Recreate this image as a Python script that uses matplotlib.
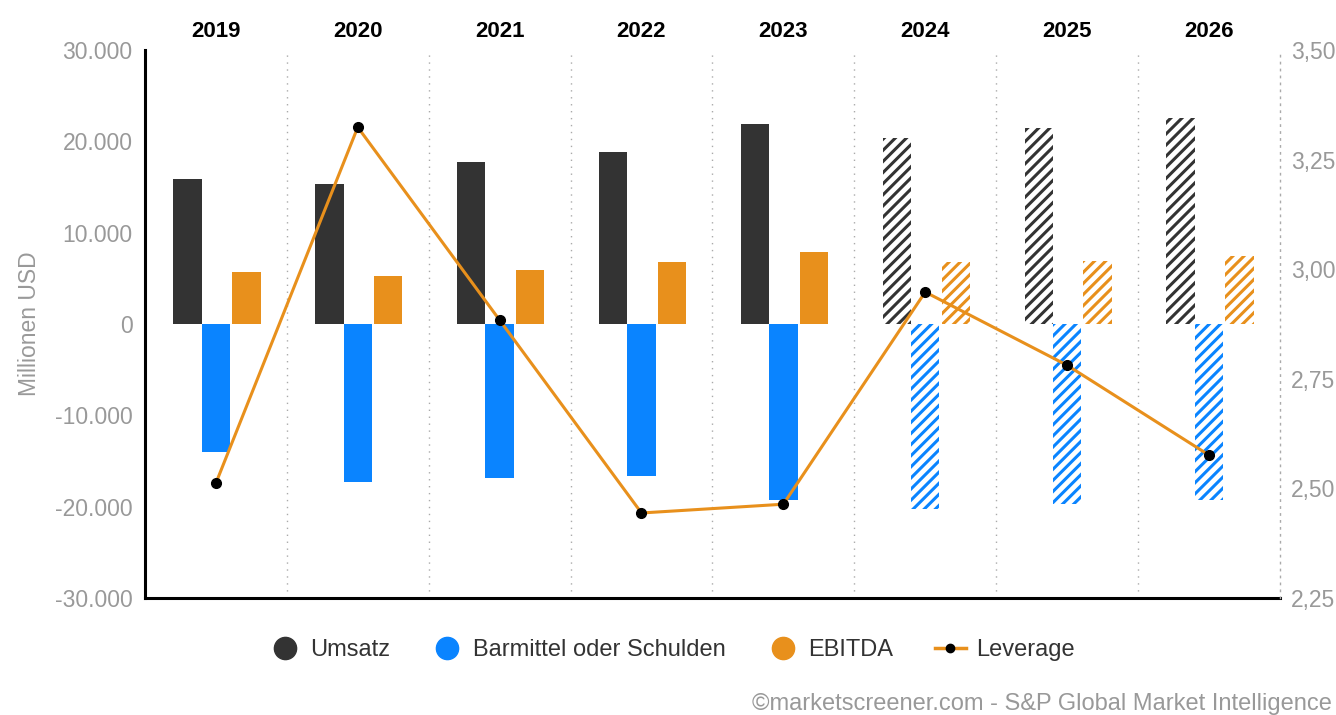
import numpy as np
import matplotlib.pyplot as plt
from matplotlib.lines import Line2D
from matplotlib.ticker import FuncFormatter

plt.rcParams['font.family'] = ['Liberation Sans', 'DejaVu Sans']
plt.rcParams['hatch.linewidth'] = 2.2

# Daten (Millionen USD)
years = ['2019', '2020', '2021', '2022', '2023', '2024', '2025', '2026']
umsatz = [15880, 15300, 17700, 18800, 21900, 20400, 21500, 22600]
barmittel = [-14000, -17300, -16900, -16600, -19300, -20200, -19700, -19300]
ebitda = [5700, 5250, 5900, 6800, 7900, 6800, 6950, 7400]
leverage = [2.512, 3.324, 2.884, 2.444, 2.464, 2.948, 2.781, 2.576]
n_actual = 5  # 2024-2026 sind Schätzungen

c_ums = '#333333'
c_bar = '#0a84ff'
c_ebit = '#e8901c'
c_grey = '#999999'

fig = plt.figure(figsize=(13.36, 7.15), dpi=100)
ax = fig.add_axes([0.1085, 0.1636, 0.8495, 0.7664])
x = np.arange(len(years))
w = 0.2

def draw_bars(offset, vals, color):
    for i, v in enumerate(vals):
        if i < n_actual:
            ax.bar(x[i] + offset, v, w, color=color, linewidth=0)
        else:
            ax.bar(x[i] + offset, v, w, facecolor='white', edgecolor=color,
                   hatch='///', linewidth=0)

draw_bars(-w, umsatz, c_ums)
draw_bars(0, barmittel, c_bar)
draw_bars(w + 0.015, ebitda, c_ebit)

ax.set_xlim(-0.5, len(years) - 0.5)
ax.set_ylim(-30000, 30000)
ax.set_yticks(np.arange(-30000, 30001, 10000))
ax.yaxis.set_major_formatter(FuncFormatter(lambda v, p: f'{int(v):,}'.replace(',', '.')))
ax.tick_params(axis='y', length=0, labelsize=16.5, labelcolor=c_grey, pad=9)
ax.set_ylabel('Millionen USD', color=c_grey, fontsize=16.5, labelpad=10)

ax.xaxis.tick_top()
ax.set_xticks(x)
ax.set_xticklabels(years, fontweight='bold', fontsize=16)
ax.tick_params(axis='x', length=0, pad=6)

for b in np.arange(0.5, len(years) - 0.5, 1):
    ax.axvline(b, color='#aaaaaa', linestyle=(0, (1, 4)), linewidth=1)

ax.spines['top'].set_visible(False)
ax.spines['right'].set_visible(False)
ax.spines['left'].set_linewidth(2.2)
ax.spines['bottom'].set_linewidth(2.2)

ax2 = ax.twinx()
ax2.plot(x, leverage, color=c_ebit, linewidth=2.2, marker='o',
         markersize=7, markerfacecolor='black', markeredgecolor='black')
ax2.set_ylim(2.25, 3.50)
ax2.set_yticks(np.arange(2.25, 3.51, 0.25))
ax2.yaxis.set_major_formatter(FuncFormatter(lambda v, p: f'{v:.2f}'.replace('.', ',')))
ax2.tick_params(axis='y', length=0, labelsize=16.5, labelcolor=c_grey, pad=8)
for s in ['top', 'left', 'bottom']:
    ax2.spines[s].set_visible(False)
ax2.spines['right'].set_linestyle((0, (1, 4)))
ax2.spines['right'].set_color('#aaaaaa')
ax2.spines['right'].set_linewidth(1)

handles = [
    Line2D([], [], linestyle='none', marker='o', markersize=16, color=c_ums),
    Line2D([], [], linestyle='none', marker='o', markersize=16, color=c_bar),
    Line2D([], [], linestyle='none', marker='o', markersize=16, color=c_ebit),
    Line2D([], [], color=c_ebit, linewidth=2.5, marker='o', markersize=6,
           markerfacecolor='black', markeredgecolor='black'),
]
labels = ['Umsatz', 'Barmittel oder Schulden', 'EBITDA', 'Leverage']
fig.legend(handles, labels, loc='center', bbox_to_anchor=(0.503, 0.091), ncol=4,
           frameon=False, fontsize=17, handlelength=1.3, columnspacing=1.75,
           handletextpad=0.45, labelcolor='#333333')

fig.text(0.997, 0.016, '©marketscreener.com - S&P Global Market Intelligence',
         ha='right', va='center', color=c_grey, fontsize=17)

fig.savefig('out.png', dpi=100)
